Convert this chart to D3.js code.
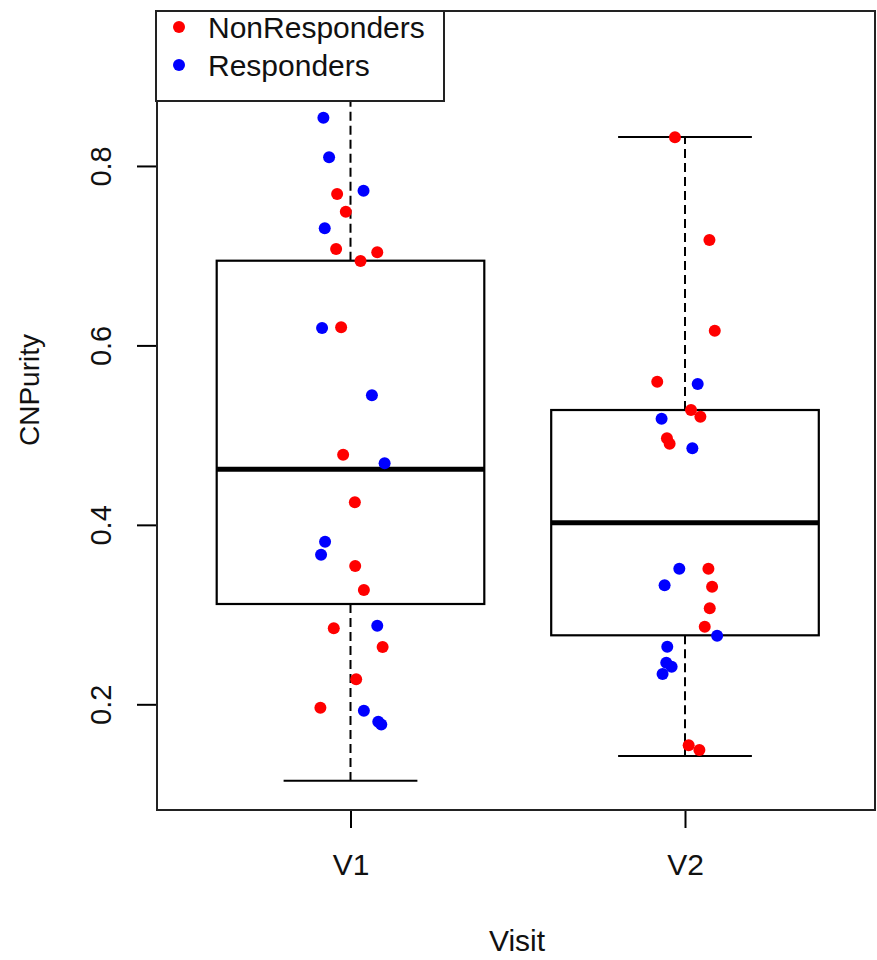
<!DOCTYPE html>
<head>
  <meta charset="UTF-8">
  <title>CNPurity by Visit</title>
  <style>
  body, html, svg{
    padding: 0;
    margin: 0;
  }
  body{
    background: #fff;
  }
  text{
    font-family: "Liberation Sans", Arial, sans-serif;
    fill: #111;
  }
  </style>
</head>
<body>
  <script src="https://cdn.jsdelivr.net/npm/d3@7/dist/d3.min.js"></script>
  <script type="text/javascript">
  // categories and box statistics
  var visits = ['V1', 'V2'];
  var whiskerLow = [0.1148, 0.1424];
  var q1 = [0.3118, 0.2769];
  var median = [0.4619, 0.4024];
  var q3 = [0.6944, 0.5280];
  var whiskerHigh = [0.9400, 0.8323];

  // points: purity value, horizontal jitter (x units), response group
  var v1Purity = [0.8538, 0.8097, 0.7688, 0.7724, 0.7490, 0.7305, 0.7075, 0.7038, 0.6941, 0.6194, 0.6202,
    0.5444, 0.4782, 0.4686, 0.4251, 0.3812, 0.3667, 0.3541, 0.3274,
    0.2847, 0.2876, 0.2639, 0.2279, 0.1962, 0.1929, 0.1805, 0.1775];
  var v1Jitter = [-0.081, -0.064, -0.040, 0.039, -0.014, -0.077, -0.043, 0.080, 0.030, -0.085, -0.028,
    0.064, -0.022, 0.102, 0.013, -0.076, -0.088, 0.014, 0.040,
    -0.050, 0.080, 0.096, 0.017, -0.090, 0.040, 0.083, 0.092];
  var v1Group = ['R', 'R', 'N', 'R', 'N', 'R', 'N', 'N', 'N', 'R', 'N',
    'R', 'N', 'R', 'N', 'R', 'R', 'N', 'N',
    'N', 'R', 'N', 'N', 'N', 'R', 'R', 'R'];

  var v2Purity = [0.8320, 0.7175, 0.6164,
    0.5596, 0.5570, 0.5280, 0.5206, 0.5183, 0.4965, 0.4905, 0.4853,
    0.3511, 0.3511, 0.3326, 0.3311, 0.3070, 0.2865, 0.2765, 0.2642,
    0.2464, 0.2419, 0.2338, 0.1543, 0.1491];
  var v2Jitter = [-0.030, 0.073, 0.089,
    -0.083, 0.038, 0.018, 0.046, -0.070, -0.054, -0.046, 0.022,
    -0.017, 0.070, -0.061, 0.081, 0.074, 0.059, 0.096, -0.053,
    -0.056, -0.040, -0.067, 0.011, 0.043];
  var v2Group = ['N', 'N', 'N',
    'N', 'R', 'N', 'N', 'R', 'N', 'N', 'R',
    'R', 'N', 'R', 'N', 'N', 'N', 'R', 'R',
    'R', 'R', 'R', 'N', 'N'];

  var yTicks = [0.2, 0.4, 0.6, 0.8];
  var legendLabels = ['NonResponders', 'Responders'];
  var legendKeys = ['N', 'R'];
  var colors = {N: '#ff0000', R: '#0000ff'};

  var width = 877, height = 960;
  var frame = {left: 157, right: 875, top: 11, bottom: 810};
  var fs = 30;

  var svg = d3.select('body').append('svg')
    .attr('width', width)
    .attr('height', height);

  var x = d3.scaleLinear().domain([1, 2]).range([350.5, 685]);
  var y = d3.scaleLinear().domain([0.0822, 0.9727]).range([frame.bottom, frame.top]);

  var boxes = visits.map(function(v, i) {
    return {i: i + 1, lo: whiskerLow[i], q1: q1[i], med: median[i], q3: q3[i], hi: whiskerHigh[i]};
  });

  //箱线图
  var g = svg.append('g');
  var bw = x(1.4) - x(1);
  var cw = x(1.2) - x(1);

  g.selectAll('.whisk').data(boxes).enter().append('g').each(function(d) {
    var s = d3.select(this);
    var cx = x(d.i);
    s.append('line').attr('x1', cx).attr('x2', cx).attr('y1', y(d.q3)).attr('y2', y(d.hi))
      .attr('stroke', '#000').attr('stroke-width', 2).attr('stroke-dasharray', '9,5');
    s.append('line').attr('x1', cx).attr('x2', cx).attr('y1', y(d.q1)).attr('y2', y(d.lo))
      .attr('stroke', '#000').attr('stroke-width', 2).attr('stroke-dasharray', '9,5');
    s.append('line').attr('x1', cx - cw).attr('x2', cx + cw).attr('y1', y(d.hi)).attr('y2', y(d.hi))
      .attr('stroke', '#000').attr('stroke-width', 2);
    s.append('line').attr('x1', cx - cw).attr('x2', cx + cw).attr('y1', y(d.lo)).attr('y2', y(d.lo))
      .attr('stroke', '#000').attr('stroke-width', 2);
    s.append('rect').attr('x', cx - bw).attr('width', 2 * bw)
      .attr('y', y(d.q3)).attr('height', y(d.q1) - y(d.q3))
      .attr('fill', 'none').attr('stroke', '#000').attr('stroke-width', 2.2);
    s.append('line').attr('x1', cx - bw).attr('x2', cx + bw).attr('y1', y(d.med)).attr('y2', y(d.med))
      .attr('stroke', '#000').attr('stroke-width', 5);
  });

  //画点
  var pts = [];
  v1Purity.forEach(function(v, k) { pts.push({i: 1, v: v, j: v1Jitter[k], g: v1Group[k]}); });
  v2Purity.forEach(function(v, k) { pts.push({i: 2, v: v, j: v2Jitter[k], g: v2Group[k]}); });

  svg.append('g').selectAll('circle').data(pts).enter().append('circle')
    .attr('cx', function(d) { return x(d.i + d.j); })
    .attr('cy', function(d) { return y(d.v); })
    .attr('r', 6)
    .attr('fill', function(d) { return colors[d.g]; });

  // 坐标轴
  var yAxis = d3.axisLeft(y).tickValues(yTicks).tickSize(20).tickFormat(d3.format('.1f'));
  var ya = svg.append('g').attr('transform', 'translate(' + frame.left + ',0)').call(yAxis);
  ya.select('.domain').remove();
  ya.selectAll('line').attr('stroke', '#000').attr('stroke-width', 2);
  ya.selectAll('text')
    .attr('font-size', 29).attr('fill', '#111')
    .attr('x', 0).attr('y', 0).attr('dy', 0)
    .attr('text-anchor', 'middle')
    .attr('transform', 'translate(-46,0) rotate(-90)');

  var xAxis = d3.axisBottom(x).tickValues([1, 2]).tickSize(18).tickPadding(26)
    .tickFormat(function(d) { return visits[d - 1]; });
  var xa = svg.append('g').attr('transform', 'translate(0,' + frame.bottom + ')').call(xAxis);
  xa.select('.domain').remove();
  xa.selectAll('line').attr('stroke', '#000').attr('stroke-width', 2);
  xa.selectAll('text').attr('font-size', fs).attr('fill', '#111');

  svg.append('rect')
    .attr('x', frame.left).attr('y', frame.top)
    .attr('width', frame.right - frame.left).attr('height', frame.bottom - frame.top)
    .attr('fill', 'none').attr('stroke', '#222').attr('stroke-width', 2);

  svg.append('text').attr('x', 517).attr('y', 951).attr('text-anchor', 'middle')
    .attr('font-size', fs).text('Visit');
  svg.append('text').attr('transform', 'translate(39,390) rotate(-90)').attr('text-anchor', 'middle')
    .attr('font-size', 28).text('CNPurity');

  // 图例
  var lg = svg.append('g');
  lg.append('rect').attr('x', 156).attr('y', frame.top).attr('width', 288).attr('height', 90)
    .attr('fill', '#fff').attr('stroke', '#222').attr('stroke-width', 2);
  legendLabels.forEach(function(lab, k) {
    var cy = 27 + k * 38;
    lg.append('circle').attr('cx', 179).attr('cy', cy).attr('r', 6).attr('fill', colors[legendKeys[k]]);
    lg.append('text').attr('x', 208).attr('y', cy).attr('dy', '0.36em').attr('font-size', fs).text(lab);
  });
  </script>
</body>
</html>
